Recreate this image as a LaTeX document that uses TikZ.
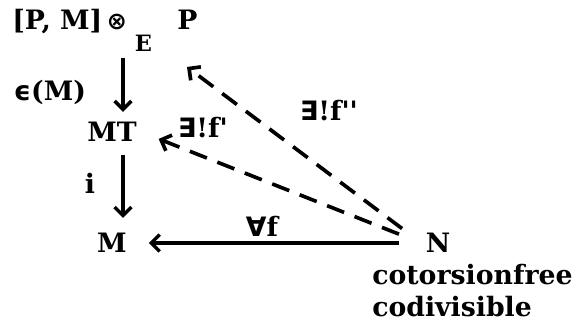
\documentclass[tikz,border=0pt]{standalone}
\usepackage{fontspec}
\setmainfont{DejaVu Serif}
\newfontfamily\symfont{DejaVu Sans}
\usetikzlibrary{arrows.meta}

\tikzset{
  obj/.style={inner sep=3pt},
  lab/.style={inner sep=1pt},
  mor/.style={line width=2.4pt},
  unq/.style={line width=2.6pt, dash pattern=on 13pt off 8pt}
}

\begin{document}
\begin{tikzpicture}[font=\fontsize{19}{22}\selectfont\bfseries,
  >={Straight Barb[length=6pt,width=12pt]}]
\useasboundingbox (0,0) rectangle (14.65,8.375);
% objects:
\node[obj, anchor=base west] (top) at (0.195,7.625)
  {[P, M]\,{\symfont\fontsize{17}{17}\selectfont ⊗}\hspace{0.3em}\raisebox{-15pt}[0pt][0pt]{\fontsize{16}{16}\selectfont E}\hspace{0.95em}P};
\node[obj] (mt) at (2.8,5.075) {MT};
\node[obj] (m) at (2.8,2.3) {M};
\node[obj] (n) at (10.95,2.3) {N};
\node[obj, anchor=base west] (cot) at (9.195,1.25) {cotorsionfree};
\node[obj, anchor=base west] (codiv) at (9.195,0.45) {codivisible};
\coordinate (col) at (3.075,0);
\coordinate (tipP) at (4.675,6.7);
% vertical maps:
\draw[mor, ->, shorten <=0.47cm, shorten >=0.15cm] (top.south -| col) -- (mt.north -| col);
\draw[mor, ->, shorten <=0.22cm, shorten >=0.27cm] (mt.south -| col) -- (m.north -| col);
% given map and the unique ones:
\draw[mor, ->, shorten <=0.56cm, shorten >=0.44cm] (n.west) -- (m.east);
\draw[unq, ->, shorten <=0.6cm, shorten >=0.47cm] (n.west) -- (mt.east);
\draw[unq, ->, shorten <=0.6cm] (n.west) -- (tipP);
% labels:
\node[lab] (eps) at (1.25,6.075) {{\symfont ϵ}(M)};
\node[lab] (iota) at (2.25,3.8) {i};
\node[lab] (all) at (6.55,2.725) {{\symfont ∀}f};
\node[lab] (uone) at (5.075,5.175) {{\symfont ∃}!f\textquotesingle};
\node[lab] (utwo) at (8.225,5.6) {{\symfont ∃}!f\textquotesingle\textquotesingle};
\end{tikzpicture}
\end{document}
